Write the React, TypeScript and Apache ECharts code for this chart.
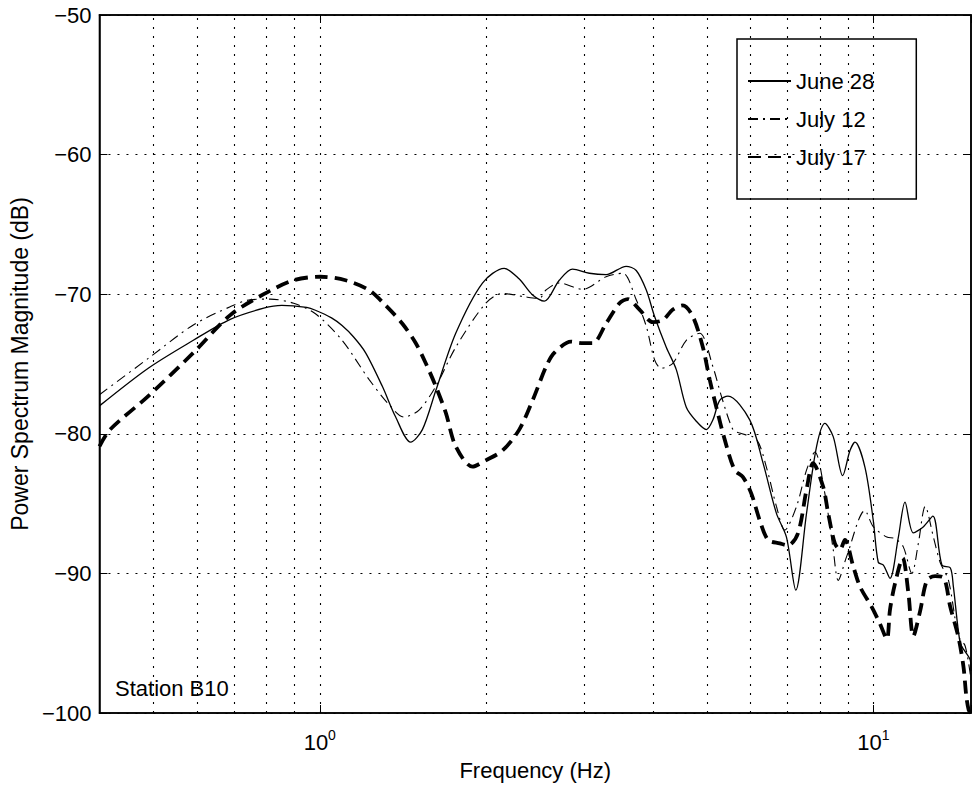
import React, { useEffect, useRef } from "react";
import * as echarts from "echarts";

// ---- data (frequency in Hz, magnitude in dB) ----
const seriesNames = ["June 28", "July 12", "July 17"];

const june28Freq = [
  0.4, 0.49, 0.591, 0.689, 0.792, 0.854, 0.947, 0.982, 1.05, 1.097, 1.15, 1.21, 1.297, 1.371, 1.459,
  1.532, 1.62, 1.76, 1.967, 2.153, 2.29, 2.423, 2.544, 2.707, 2.861, 3.068, 3.289, 3.575, 3.728,
  3.887, 4.024, 4.224, 4.404, 4.591, 4.786, 4.99, 5.129, 5.275, 5.46, 5.977, 6.318, 6.679, 6.963,
  7.24, 7.569, 7.893, 8.171, 8.458, 8.797, 9.068, 9.258, 9.652, 9.99, 10.2, 10.42, 10.71, 11.09,
  11.4, 11.8, 12.31, 12.8, 13.29, 13.76, 13.94, 14.34, 14.64, 14.95, 15,
];
const june28Db = [
  -78.0, -75.3, -73.3, -71.8, -71.0, -70.8, -70.95, -71.15, -71.7, -72.25, -73.05, -74.2, -76.6, -78.8,
  -80.6, -79.7, -76.9, -72.8, -69.2, -68.15, -68.9, -70.06, -70.5, -69.0, -68.2, -68.5, -68.6, -68.0,
  -68.3, -69.7, -71.6, -73.8, -75.4, -78.1, -79.1, -79.7, -79.0, -77.6, -77.3, -79.0, -82.1, -85.7,
  -87.4, -91.2, -85.7, -80.9, -79.25, -80.2, -83.0, -81.2, -80.6, -82.4, -86.2, -89.2, -89.4, -90.35,
  -87.4, -84.9, -87.1, -86.65, -85.9, -89.4, -89.6, -90.95, -95.0, -95.6, -96.2, -97.0,
];

const july12Freq = [
  0.4, 0.49, 0.591, 0.689, 0.749, 0.814, 0.897, 0.982, 1.097, 1.227, 1.333, 1.419, 1.511, 1.62,
  1.76, 1.994, 2.138, 2.357, 2.491, 2.562, 2.707, 2.984, 3.289, 3.525, 3.728, 3.887, 4.024, 4.137,
  4.341, 4.591, 4.853, 5.129, 5.312, 5.574, 5.733, 6.145, 6.407, 6.679, 6.914, 7.261, 7.569, 7.837,
  8.171, 8.458, 8.636, 8.942, 9.652, 9.99, 10.57, 10.94, 11.32, 11.73, 12.05, 12.4, 12.83, 13.19,
  13.66, 14.24, 14.64, 15,
];
const july12Db = [
  -77.2, -74.6, -72.2, -70.9, -70.4, -70.35, -70.65, -71.4, -73.3, -76.1, -77.9, -78.8, -78.3, -76.6,
  -73.8, -70.65, -69.95, -70.2, -70.3, -69.7, -69.2, -69.65, -68.75, -68.5, -70.4, -72.3, -74.7, -75.3,
  -74.95, -73.3, -72.8, -75.2, -77.3, -79.7, -79.95, -80.4, -82.4, -85.2, -86.9, -85.2, -82.6, -81.3,
  -84.3, -88.3, -90.5, -88.8, -85.5, -86.65, -87.4, -87.5, -88.1, -90.0, -87.85, -85.2, -87.4, -89.2,
  -90.5, -94.5, -95.2, -97.6,
];

const july17Freq = [
  0.4, 0.418, 0.49, 0.591, 0.689, 0.792, 0.897, 1.003, 1.113, 1.227, 1.315, 1.409, 1.49, 1.554,
  1.62, 1.689, 1.76, 1.887, 1.994, 2.138, 2.292, 2.423, 2.562, 2.651, 2.843, 2.964, 3.111, 3.289,
  3.477, 3.599, 3.779, 3.995, 4.164, 4.341, 4.525, 4.718, 4.919, 5.059, 5.202, 5.385, 5.614, 5.812,
  6.019, 6.231, 6.451, 6.773, 7.01, 7.309, 7.569, 7.781, 8.112, 8.283, 8.516, 8.698, 8.878, 9.193,
  9.454, 9.925, 10.27, 10.57, 10.71, 10.94, 11.29, 11.56, 11.8, 12.14, 12.49, 12.92, 13.38, 13.76,
  14.24, 14.54, 14.71, 14.86, 15,
];
const july17Db = [
  -80.9, -79.7, -77.3, -74.2, -71.5, -70.0, -69.0, -68.75, -69.0, -69.7, -70.8, -72.1, -73.5, -74.95,
  -76.6, -78.5, -80.9, -82.35, -81.9, -81.2, -79.7, -77.6, -75.2, -74.2, -73.4, -73.5, -73.5, -72.1,
  -70.65, -70.35, -71.1, -72.0, -71.85, -71.1, -70.8, -71.6, -73.8, -76.1, -78.1, -80.4, -82.6, -83.1,
  -84.3, -86.2, -87.6, -87.85, -88.0, -87.1, -84.0, -82.1, -83.8, -85.7, -87.85, -88.3, -87.6, -89.5,
  -90.95, -92.4, -93.6, -94.7, -92.6, -90.7, -88.9, -91.4, -94.5, -92.7, -90.5, -90.2, -90.3, -92.4,
  -94.6, -96.7, -98.8, -99.8, -100.0,
];

const gridFreqs = [0.5, 0.6, 0.7, 0.8, 0.9, 1, 2, 3, 4, 5, 6, 7, 8, 9, 10];
const xRange = [0.4, 15];
const yRange = [-100, -50];
const yStep = 10;
const annotation = "Station B10";
const xTitle = "Frequency (Hz)";
const yTitle = "Power Spectrum Magnitude (dB)";

const FONT = '"Liberation Sans", Arial, Helvetica, sans-serif';

export default function App() {
  const ref = useRef<HTMLDivElement>(null);

  useEffect(() => {
    if (!ref.current) return;
    const chart = echarts.init(ref.current, null, { renderer: "svg" });
    const zip = (f: number[], d: number[]) => f.map((v, i) => [v, d[i]]);
    const dotted = { type: [2, 7] as number[], color: "#000", width: 1.1 };

    const logLabel = (v: number) => {
      const e = Math.log10(v);
      if (Math.abs(e - Math.round(e)) > 1e-6) return "";
      return `{b|10}{s|${Math.round(e)}}`;
    };

    chart.setOption({
      animation: false,
      backgroundColor: "#fff",
      textStyle: { fontFamily: FONT },
      grid: {
        left: 99,
        right: 9,
        top: 15,
        bottom: 80,
        show: true,
        borderColor: "#000",
        borderWidth: 1.5,
        backgroundColor: "transparent",
      },
      legend: {
        orient: "vertical",
        left: 737,
        top: 39,
        data: seriesNames,
        itemWidth: 43,
        itemHeight: 14,
        itemGap: 16,
        padding: [31, 42, 31, 10],
        borderColor: "#000",
        borderWidth: 1.5,
        backgroundColor: "transparent",
        selectedMode: false,
        itemStyle: { opacity: 0, color: "transparent", borderColor: "transparent", borderWidth: 0 },
        textStyle: { fontSize: 22, color: "#000", fontFamily: FONT },
      },
      xAxis: [
        {
          type: "log",
          logBase: 10,
          min: xRange[0],
          max: xRange[1],
          name: xTitle,
          nameLocation: "middle",
          nameGap: 46,
          nameTextStyle: { fontSize: 22, color: "#000", fontFamily: FONT },
          axisLine: { show: true, lineStyle: { color: "#000", width: 1.5 } },
          axisTick: { show: true, inside: true, length: 8, lineStyle: { color: "#000" } },
          splitLine: { show: false },
          axisLabel: {
            margin: 15,
            formatter: logLabel,
            rich: {
              b: { fontSize: 22, color: "#000", fontFamily: FONT, lineHeight: 28 },
              s: { fontSize: 14, color: "#000", fontFamily: FONT, verticalAlign: "top", lineHeight: 14 },
            },
          },
        },
        {
          type: "log",
          logBase: 10,
          position: "top",
          min: xRange[0],
          max: xRange[1],
          axisLine: { show: true, lineStyle: { color: "#000", width: 1.5 } },
          axisTick: { show: true, inside: true, length: 8, lineStyle: { color: "#000" } },
          axisLabel: { show: false },
          splitLine: { show: false },
        },
      ],
      yAxis: [
        {
          type: "value",
          min: yRange[0],
          max: yRange[1],
          interval: yStep,
          name: yTitle,
          nameLocation: "middle",
          nameGap: 65,
          nameTextStyle: { fontSize: 23, color: "#000", fontFamily: FONT },
          axisLine: { show: true, lineStyle: { color: "#000", width: 1.5 } },
          axisTick: { show: true, inside: true, length: 8, lineStyle: { color: "#000" } },
          splitLine: { show: true, lineStyle: dotted },
          axisLabel: {
            margin: 8,
            fontSize: 22,
            color: "#000",
            fontFamily: FONT,
            formatter: (v: number) => (v < 0 ? "\u2212" + Math.abs(v) : String(v)),
          },
        },
        {
          type: "value",
          position: "right",
          min: yRange[0],
          max: yRange[1],
          interval: yStep,
          axisLine: { show: true, lineStyle: { color: "#000", width: 1.5 } },
          axisTick: { show: true, inside: true, length: 8, lineStyle: { color: "#000" } },
          axisLabel: { show: false },
          splitLine: { show: false },
        },
      ],
      graphic: [
        {
          type: "text",
          left: 115,
          top: 677,
          style: { text: annotation, fontSize: 22, fill: "#000", fontFamily: FONT },
        },
      ],
      series: [
        {
          name: seriesNames[0],
          type: "line",
          data: zip(june28Freq, june28Db),
          showSymbol: false,
          symbol: "none",
          smooth: 0.3,
          lineStyle: { color: "#000", width: 1.3, type: "solid" },
          itemStyle: { color: "#000" },
          z: 4,
          markLine: {
            silent: true,
            symbol: "none",
            label: { show: false },
            lineStyle: dotted,
            data: gridFreqs.map((f) => ({ xAxis: f })),
            z: 1,
          },
        },
        {
          name: seriesNames[1],
          type: "line",
          data: zip(july12Freq, july12Db),
          showSymbol: false,
          symbol: "none",
          smooth: 0.3,
          lineStyle: { color: "#000", width: 1.1, type: [10, 5, 2, 5] },
          itemStyle: { color: "#000" },
          z: 3,
        },
        {
          name: seriesNames[2],
          type: "line",
          data: zip(july17Freq, july17Db),
          showSymbol: false,
          symbol: "none",
          smooth: 0.3,
          lineStyle: { color: "#000", width: 3.8, type: [13, 7] },
          itemStyle: { color: "#000" },
          z: 5,
        },
      ],
    });

    return () => chart.dispose();
  }, []);

  return (
    <div
      ref={ref}
      style={{ position: "fixed", left: 0, top: 0, width: 980, height: 793, background: "#fff" }}
    />
  );
}
